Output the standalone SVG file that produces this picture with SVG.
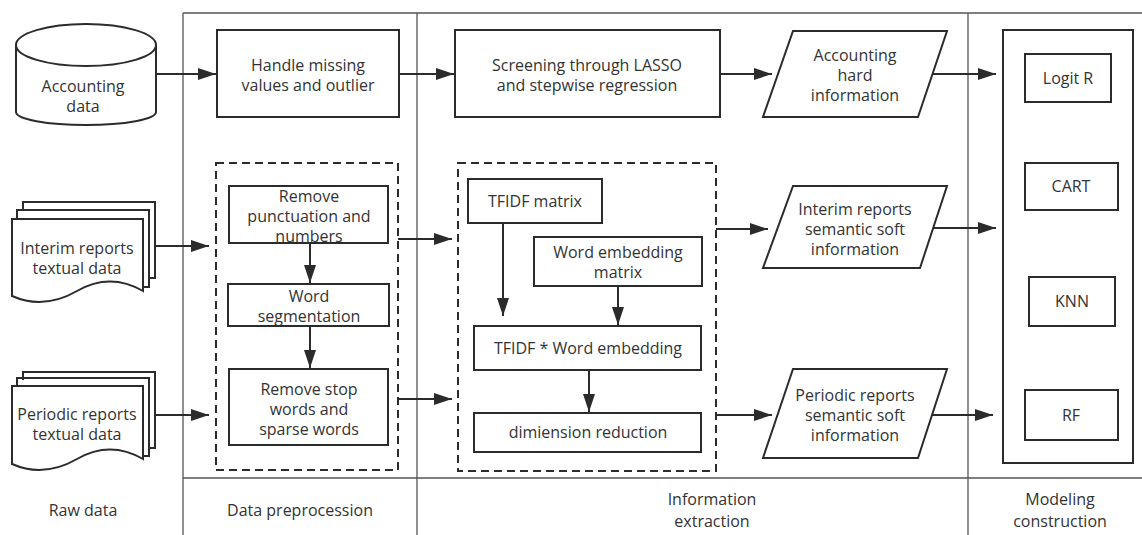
<svg xmlns="http://www.w3.org/2000/svg" width="1142" height="535" viewBox="0 0 1142 535">
<style>
text{font-family:"Open Sans","Noto Sans","Liberation Sans",sans-serif;font-size:16px;fill:#333;text-anchor:middle}
.b{fill:#fff;stroke:#2b2b2b;stroke-width:2}
.d{fill:none;stroke:#2b2b2b;stroke-width:2;stroke-dasharray:8 5}
.f{fill:none;stroke:#555;stroke-width:1.3}
.c{fill:none;stroke:#2b2b2b;stroke-width:2}
</style>
<defs>
<marker id="ah" markerUnits="userSpaceOnUse" markerWidth="18" markerHeight="12" refX="18" refY="6" orient="auto">
<path d="M0,0 L18,6 L0,12 Z" fill="#2b2b2b"/>
</marker>
</defs>
<rect width="1142" height="535" fill="#fff"/>
<g id="frame">
<path class="f" d="M183,13 H1142 M183,13 V535 M417,13 V535 M968,13 V535 M183,478 H1142"/>
</g>
<g id="accounting-data">
<path class="b" d="M16,45 V112 A70,13 0 0 0 156,112 V45"/>
<ellipse class="b" cx="86" cy="45" rx="70" ry="21"/>
<text x="83" y="92">Accounting</text>
<text x="83" y="112">data</text>
</g>
<g id="interim-doc">
<path class="c" d="M23,210 V202 H155 V278 H149"/>
<path class="c" d="M17,219 V210 H149 V287 H143"/>
<path class="b" d="M12,219 H143 V291 Q110,272 77,291 T12,296 Z"/>
<text x="77" y="254">Interim reports</text>
<text x="77" y="274">textual data</text>
</g>
<g id="periodic-doc">
<path class="c" d="M23,380 V372 H155 V448 H149"/>
<path class="c" d="M17,386 V378 H149 V456 H143"/>
<path class="b" d="M12,386 H143 V459 Q110,440 77,459 T12,464 Z"/>
<text x="77" y="420">Periodic reports</text>
<text x="77" y="440">textual data</text>
</g>
<g id="handle-missing">
<rect class="b" x="217" y="30" width="182" height="87"/>
<text x="308" y="71">Handle missing</text>
<text x="308" y="91">values and outlier</text>
</g>
<g id="screening">
<rect class="b" x="455" y="30" width="265" height="87"/>
<text x="587" y="71">Screening through LASSO</text>
<text x="587" y="91">and stepwise regression</text>
</g>
<g id="accounting-hard">
<path class="b" d="M793,31 H947 L918,117 H763 Z"/>
<text x="855" y="61">Accounting</text>
<text x="855" y="81">hard</text>
<text x="855" y="101">information</text>
</g>
<g id="preprocess-group">
<rect class="d" x="216" y="163" width="182" height="307"/>
</g>
<g id="remove-punct">
<rect class="b" x="229" y="186" width="159" height="57"/>
<text x="309" y="202">Remove</text>
<text x="309" y="222">punctuation and</text>
<text x="309" y="242">numbers</text>
</g>
<g id="word-seg">
<rect class="b" x="228" y="284" width="161" height="42"/>
<text x="309" y="302">Word</text>
<text x="309" y="322">segmentation</text>
</g>
<g id="remove-stop">
<rect class="b" x="229" y="369" width="159" height="76"/>
<text x="309" y="395">Remove stop</text>
<text x="309" y="415">words and</text>
<text x="309" y="435">sparse words</text>
</g>
<g id="extraction-group">
<rect class="d" x="458" y="163" width="258" height="308"/>
</g>
<g id="tfidf-matrix">
<rect class="b" x="468" y="179" width="134" height="44"/>
<text x="535" y="207">TFIDF matrix</text>
</g>
<g id="word-embedding">
<rect class="b" x="534" y="237" width="168" height="49"/>
<text x="618" y="258">Word embedding</text>
<text x="618" y="278">matrix</text>
</g>
<g id="tfidf-we">
<rect class="b" x="474" y="326" width="227" height="44"/>
<text x="588" y="354">TFIDF * Word embedding</text>
</g>
<g id="dim-reduction">
<rect class="b" x="474" y="413" width="227" height="39"/>
<text x="588" y="438">dimiension reduction</text>
</g>
<g id="interim-soft">
<path class="b" d="M793,186 H947 L920,268 H763 Z"/>
<text x="855" y="215">Interim reports</text>
<text x="855" y="235">semantic  soft</text>
<text x="855" y="255">information</text>
</g>
<g id="periodic-soft">
<path class="b" d="M793,369 H947 L918,458 H763 Z"/>
<text x="855" y="401">Periodic reports</text>
<text x="855" y="421">semantic soft</text>
<text x="855" y="441">information</text>
</g>
<g id="models">
<rect class="b" x="1003" y="30" width="130" height="433" stroke-width="2.5"/>
</g>
<g id="logit">
<rect class="b" x="1025" y="54" width="86" height="48"/>
<text x="1068" y="84">Logit R</text>
</g>
<g id="cart">
<rect class="b" x="1025" y="163" width="93" height="47"/>
<text x="1071" y="192">CART</text>
</g>
<g id="knn">
<rect class="b" x="1029" y="277" width="86" height="49"/>
<text x="1072" y="307">KNN</text>
</g>
<g id="rf">
<rect class="b" x="1025" y="390" width="93" height="50"/>
<text x="1071" y="421">RF</text>
</g>
<g id="labels">
<text x="83" y="516">Raw data</text>
<text x="300" y="516">Data preprocession</text>
<text x="712" y="505">Information</text>
<text x="712" y="527">extraction</text>
<text x="1060" y="505">Modeling</text>
<text x="1060" y="527">construction</text>
</g>
<g id="connectors">
<path class="c" d="M156,74 H216" marker-end="url(#ah)"/>
<path class="c" d="M399,74 H454" marker-end="url(#ah)"/>
<path class="c" d="M720,74 H772" marker-end="url(#ah)"/>
<path class="c" d="M933,74 H996" marker-end="url(#ah)"/>
<path class="c" d="M155,246 H209" marker-end="url(#ah)"/>
<path class="c" d="M155,415 H209" marker-end="url(#ah)"/>
<path class="c" d="M310,243 V283" marker-end="url(#ah)"/>
<path class="c" d="M310,326 V368" marker-end="url(#ah)"/>
<path class="c" d="M398,239 H452" marker-end="url(#ah)"/>
<path class="c" d="M398,399 H452" marker-end="url(#ah)"/>
<path class="c" d="M503,223 V316" marker-end="url(#ah)"/>
<path class="c" d="M618,286 V325" marker-end="url(#ah)"/>
<path class="c" d="M589,370 V412" marker-end="url(#ah)"/>
<path class="c" d="M716,229 H768" marker-end="url(#ah)"/>
<path class="c" d="M716,415 H772" marker-end="url(#ah)"/>
<path class="c" d="M934,228 H996" marker-end="url(#ah)"/>
<path class="c" d="M932,415 H993" marker-end="url(#ah)"/>
</g>
</svg>
